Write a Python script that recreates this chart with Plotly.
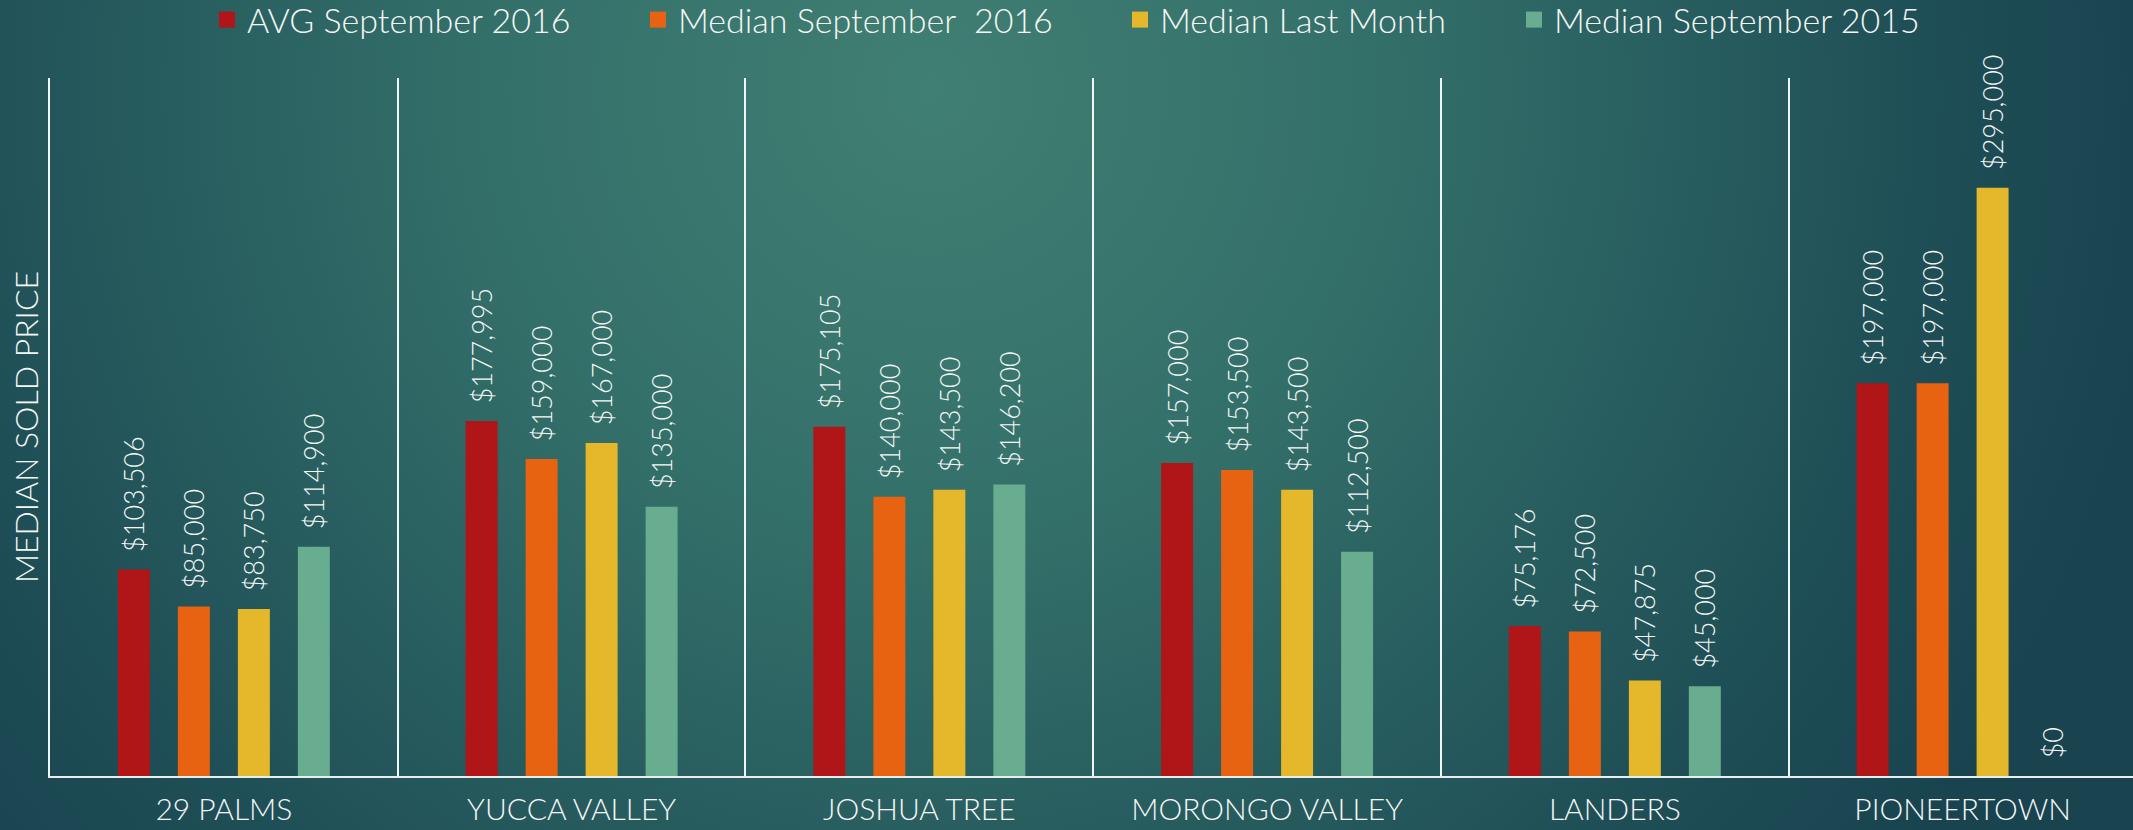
import base64
import plotly.graph_objects as go

categories = ["29 PALMS", "YUCCA VALLEY", "JOSHUA TREE", "MORONGO VALLEY", "LANDERS", "PIONEERTOWN"]
avg_sep_2016 = [103506, 177995, 175105, 157000, 75176, 197000]
median_sep_2016 = [85000, 159000, 140000, 153500, 72500, 197000]
median_last_month = [83750, 167000, 143500, 143500, 47875, 295000]
median_sep_2015 = [114900, 135000, 146200, 112500, 45000, 0]

series_names = ["AVG September 2016", "Median September  2016", "Median Last Month", "Median September 2015"]
series_values = [avg_sep_2016, median_sep_2016, median_last_month, median_sep_2015]
series_colors = ["#b01517", "#e86311", "#e5b72a", "#69ad90"]

W, H = 2133, 830
ML, MR, MT, MB = 50, 0, 78, 54
PW, PH = W - ML - MR, H - MT - MB
TXT = "#f4f6f6"

svg = f'''<svg xmlns="http://www.w3.org/2000/svg" width="{W}" height="{H}" viewBox="0 0 {W} {H}" preserveAspectRatio="none">
<defs><radialGradient id="g" gradientUnits="userSpaceOnUse" cx="930" cy="90" r="1250">
<stop offset="0" stop-color="#407f73"/>
<stop offset="0.35" stop-color="#34706a"/>
<stop offset="0.62" stop-color="#275c5e"/>
<stop offset="0.82" stop-color="#1e4d55"/>
<stop offset="1" stop-color="#18434f"/>
</radialGradient></defs>
<rect x="0" y="0" width="{W}" height="{H}" fill="url(#g)"/>
</svg>'''
bg_src = "data:image/svg+xml;base64," + base64.b64encode(svg.encode()).decode()

fig = go.Figure()
legend_names = ["legend", "legend2", "legend3", "legend4"]
for name, vals, col, lg in zip(series_names, series_values, series_colors, legend_names):
    fig.add_trace(go.Bar(
        x=categories, y=vals, name=name, marker=dict(color=col, line=dict(width=0)),
        text=[f"\u00a0\u00a0${v:,}" for v in vals],
        textposition="outside", textangle=-90, cliponaxis=False, constraintext="none",
        textfont=dict(family="Lato", size=27, color=TXT, weight=300),
        showlegend=False, hoverinfo="x+y",
    ))
    fig.add_trace(go.Scatter(
        x=[None], y=[None], mode="markers", name=name, legend=lg,
        marker=dict(symbol="square", size=17, color=col),
        showlegend=True,
    ))

legend_px = [219, 650, 1132, 1526]
leg_y = 1 + (MT - 20) / PH
legend_layouts = {}
for lg, px in zip(legend_names, legend_px):
    legend_layouts[lg] = dict(
        x=(px - 12 - ML) / PW, y=leg_y, xanchor="left", yanchor="middle",
        orientation="h", bgcolor="rgba(0,0,0,0)",
        font=dict(family="Lato", size=34, color=TXT, weight=300),
    )

fig.update_layout(
    width=W, height=H,
    margin=dict(l=ML, r=MR, t=MT, b=MB, autoexpand=False),
    paper_bgcolor="#22555a", plot_bgcolor="rgba(0,0,0,0)",
    barmode="group", bargap=0.31, bargroupgap=0.467,
    images=[dict(source=bg_src, xref="paper", yref="paper",
                 x=-ML / PW, y=1 + MT / PH, sizex=W / PW, sizey=H / PH,
                 xanchor="left", yanchor="top", sizing="stretch", layer="below")],
    **legend_layouts,
)
fig.update_xaxes(
    type="category", range=[-0.5, 5.49], tickson="boundaries",
    showgrid=True, gridcolor="#f2f5f5", gridwidth=1.5,
    showline=True, linecolor="#e8eeee", linewidth=2,
    ticks="", ticklabelstandoff=6,
    tickfont=dict(family="Lato", size=30, color=TXT, weight=300),
    automargin=False, fixedrange=True,
)
fig.update_yaxes(
    range=[0, 350000], showgrid=False, zeroline=False, showticklabels=False,
    showline=True, linecolor="#f2f5f5", linewidth=1.5,
    title=dict(text="MEDIAN SOLD PRICE", font=dict(family="Lato", size=32, color=TXT, weight=300), standoff=0),
    automargin=False, fixedrange=True,
)

fig.write_html("out.html", config={"displayModeBar": False},
               post_script="document.body.style.margin='0';document.body.style.overflow='hidden';")
